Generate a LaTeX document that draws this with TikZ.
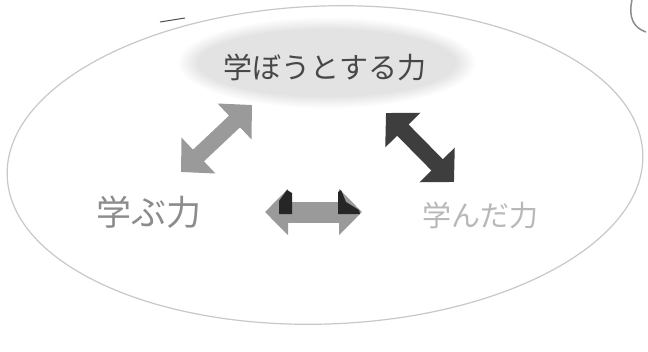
\documentclass[tikz,border=0pt]{standalone}
\usepackage{fontspec}
\newfontfamily\jp{Noto Sans CJK JP}
\usetikzlibrary{arrows.meta}
\definecolor{rim}{HTML}{C8C8C8}
\definecolor{midgray}{HTML}{9A9A9A}
\definecolor{darkarrow}{HTML}{3E3E3E}
\tikzset{
  lbl/.style={font=\jp, inner sep=0pt},
  dbl/.style={line width=16pt, {Triangle[length=24pt,width=48pt]}-{Triangle[length=24pt,width=48pt]}},
}
\begin{document}
\begin{tikzpicture}[x=1pt,y=-1pt]
\useasboundingbox (0,0) rectangle (648,351);
\fill[white] (0,0) rectangle (648,351);
% outer ellipse
\draw[rim, line width=1.2pt, rotate around={2:(325,165)}] (325,165) ellipse [x radius=318, y radius=159];
% top blob (soft edges)
\foreach \i in {0,...,6}{
  \fill[black, opacity=0.016] (327,63) ellipse [x radius={148-\i*3}, y radius={45-\i*1.8}];
}
% texts
\node[lbl, text=black!72, font=\jp\fontsize{29}{29}\selectfont] (top) at (325,67) {学ぼうとする力};
\node[lbl, text=black!45, font=\jp\fontsize{35}{35}\selectfont] (left) at (149,212) {学ぶ力};
\node[lbl, text=black!28, font=\jp\fontsize{29}{29}\selectfont] (right) at (480,215) {学んだ力};
% arrow end points
\coordinate (la) at (252,105);
\coordinate (lb) at (181,172);
\coordinate (ra) at (386,113);
\coordinate (rb) at (454,182);
\coordinate (ma) at (265,212);
\coordinate (mb) at (362,212);
\draw[dbl, midgray] (la) -- (lb);
\draw[dbl, darkarrow] (ra) -- (rb);
\draw[midgray, line width=21pt, {Triangle[length=23pt,width=45pt]}-{Triangle[length=23pt,width=45pt]}] (ma) -- (mb);
\fill[black!85] (279,201) -- (287,190) -- (292,193) -- (292,214) -- (279,214) -- cycle;
\fill[black!85] (338,214) -- (338,192) -- (341,190) -- (346,202) -- (359,210) -- (360,214) -- cycle;
% stray marks
\draw[black!70, line width=1pt] (160,22) -- (185,18);
\draw[black!45, line width=1.5pt] (632,0) .. controls (628,18) and (634,28) .. (646,32);
\end{tikzpicture}
\end{document}
